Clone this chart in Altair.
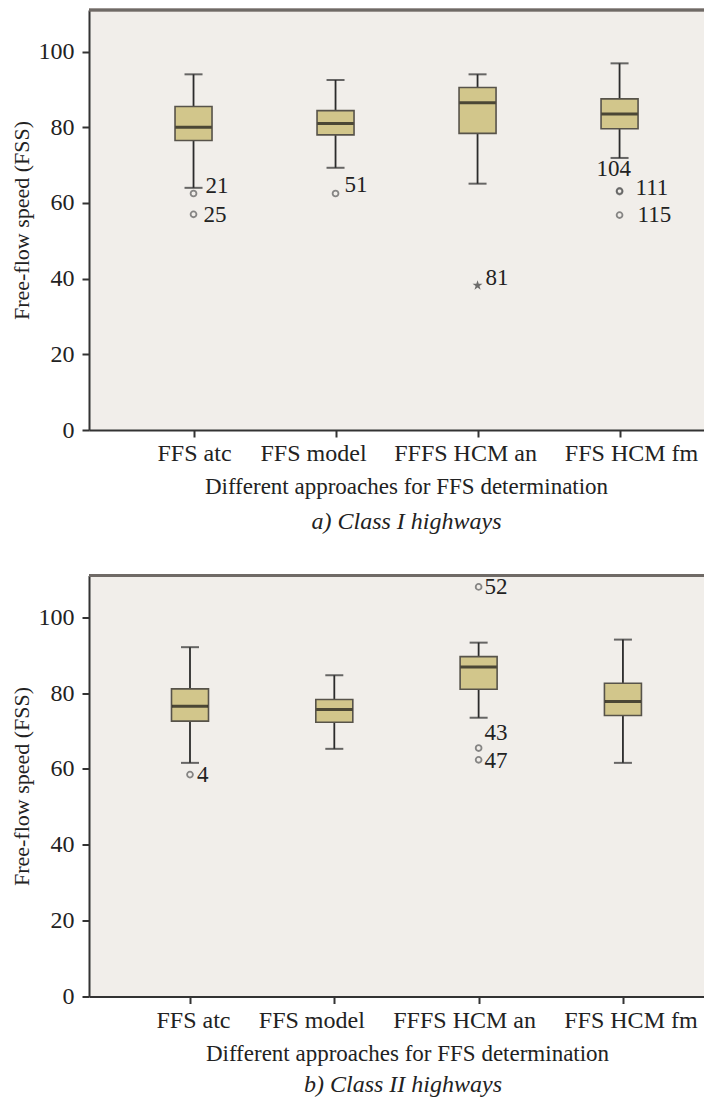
import altair as alt
import pandas as pd

# ---------------- data ----------------
cats = ["FFS atc", "FFS model", "FFFS HCM an", "FFS HCM fm"]

# Panel a) Class I highways
a_lo = [64.0, 69.3, 65.1, 71.9]
a_q1 = [76.5, 78.0, 78.4, 79.6]
a_med = [80.0, 81.0, 86.5, 83.5]
a_q3 = [85.5, 84.4, 90.5, 87.5]
a_hi = [94.0, 92.5, 94.0, 96.9]
a_out_cat = ["FFS atc", "FFS atc", "FFS model", "FFS HCM fm", "FFS HCM fm", "FFS HCM fm"]
a_out_val = [62.5, 57.0, 62.5, 63.2, 63.0, 56.8]
a_out_lab = ["21", "25", "51", "104", "111", "115"]
a_ext_cat = ["FFFS HCM an"]
a_ext_val = [38.2]
a_ext_lab = ["81"]

# Panel b) Class II highways
b_lo = [61.6, 65.3, 73.5, 61.6]
b_q1 = [72.6, 72.3, 81.0, 74.1]
b_med = [76.5, 75.7, 86.9, 77.8]
b_q3 = [81.1, 78.3, 89.6, 82.6]
b_hi = [92.1, 84.7, 93.3, 94.1]
b_out_cat = ["FFS atc", "FFFS HCM an", "FFFS HCM an", "FFFS HCM an"]
b_out_val = [58.5, 108.0, 65.5, 62.4]
b_out_lab = ["4", "52", "43", "47"]

y_ticks = [0, 20, 40, 60, 80, 100]

# ---------------- styling offsets (pixels) ----------------
a_lab_off = {"21": (12, -8), "25": (10, 1), "51": (9, -9), "104": (-23, -22),
             "111": (16, -4), "115": (18, 0), "81": (8, -7)}
b_lab_off = {"4": (7, 0), "52": (6, 0), "43": (6, -15), "47": (6, 1)}
a_tick_dx = [1, -22, -12, 12]
b_tick_dx = [3.5, -22.5, -14, 8]

FONT = "Liberation Serif"
DARK = "#2b2b2b"
TXT = "#222222"
STAR = ("M0,-1L0.2245,-0.309L0.951,-0.309L0.363,0.118L0.588,0.809L0,0.382"
        "L-0.588,0.809L-0.363,0.118L-0.951,-0.309L-0.2245,-0.309Z")

W = 624


def panel(lo, q1, med, q3, hi, out_cat, out_val, out_lab, ext_cat, ext_val, ext_lab,
          offs, tick_dx, caption, height, pad, align, title_x, cap_dx, cap_off):
    box = pd.DataFrame({"cat": cats, "lo": lo, "q1": q1, "med": med, "q3": q3, "hi": hi})
    outs = pd.DataFrame({"cat": out_cat, "val": out_val, "lab": out_lab})
    ext = pd.DataFrame({"cat": ext_cat, "val": ext_val, "lab": ext_lab})

    xscale = alt.Scale(type="point", domain=cats, padding=pad, align=align)
    yscale = alt.Scale(domain=[0, 111], nice=False, zero=False)
    xtitle = "Different approaches for FFS determination"
    ytitle = "Free-flow speed (FSS)"
    xaxis = alt.Axis(title=xtitle, labels=False, titleX=title_x, titleY=63.5,
                     titleBaseline="alphabetic", titleAnchor="start", titleAlign="center")
    yaxis = alt.Axis(values=y_ticks, title=ytitle,
                     labelPadding=8, titlePadding=5, titleFontSize=22)
    X = alt.X("cat:N", scale=xscale, sort=cats, axis=xaxis, title=xtitle)

    def Y(f):
        return alt.Y(f + ":Q", scale=yscale, axis=yaxis, title=ytitle)

    base = alt.Chart(box)
    w_lo = base.mark_rule(color=DARK, strokeWidth=1.8).encode(x=X, y=Y("lo"), y2="q1:Q")
    w_hi = base.mark_rule(color=DARK, strokeWidth=1.8).encode(x=X, y=Y("q3"), y2="hi:Q")
    cap_lo = base.mark_tick(orient="horizontal", size=18, thickness=2, color=DARK).encode(x=X, y=Y("lo"))
    cap_hi = base.mark_tick(orient="horizontal", size=18, thickness=2, color=DARK).encode(x=X, y=Y("hi"))
    bx = base.mark_bar(size=37, fill="#D2C68B", stroke="#57534a", strokeWidth=1.6).encode(
        x=X, y=Y("q1"), y2="q3:Q")
    md = base.mark_tick(orient="horizontal", size=36, thickness=3, color="#111111").encode(x=X, y=Y("med"))
    pts = alt.Chart(outs).mark_point(shape="circle", filled=False, size=34, color="#5a5a5a",
                                     strokeWidth=1.8).encode(x=X, y=Y("val"))
    frame = base.mark_rule(color="#6f6a66", strokeWidth=2.5).encode(
        x=alt.value(0), x2=alt.value(W), y=alt.value(0))
    layers = [w_lo, w_hi, cap_lo, cap_hi, bx, md, pts, frame]
    if len(ext):
        layers.append(alt.Chart(ext).mark_point(shape=STAR, filled=True, size=110,
                                                color="#333333").encode(x=X, y=Y("val")))
    all_labs = list(out_lab) + list(ext_lab)
    src = pd.concat([outs, ext], ignore_index=True)
    for lab in dict.fromkeys(all_labs):
        dx, dy = offs[lab]
        layers.append(alt.Chart(src).transform_filter(alt.datum.lab == lab).mark_text(
            align="left", baseline="middle", dx=dx, dy=dy, font=FONT, fontSize=23,
            color=TXT).encode(x=X, y=Y("val"), text="lab:N"))
    # category labels under the ticks
    for c, dx in zip(cats, tick_dx):
        layers.append(base.transform_filter(alt.datum.cat == c).mark_text(
            align="center", baseline="alphabetic", dx=dx, font=FONT, fontSize=24,
            color=TXT).encode(x=X, y=alt.value(height + 31), text="cat:N"))
    return alt.layer(*layers).properties(
        width=W, height=height,
        title=alt.TitleParams(caption, orient="bottom", anchor="middle", font=FONT,
                              fontStyle="italic", fontSize=24, fontWeight="normal",
                              color=TXT, offset=cap_off, dx=cap_dx))


# plot left edge at page x = 88
pa = panel(a_lo, a_q1, a_med, a_q3, a_hi, a_out_cat, a_out_val, a_out_lab,
           a_ext_cat, a_ext_val, a_ext_lab, a_lab_off, a_tick_dx, "a) Class I highways",
           420, 0.697, 0.528, 317, 5.5, 11.5)
pb = panel(b_lo, b_q1, b_med, b_q3, b_hi, b_out_cat, b_out_val, b_out_lab,
           [], [], [], b_lab_off, b_tick_dx, "b) Class II highways",
           421, 0.662, 0.5286, 318, 2, 8)

chart = alt.vconcat(pa, pb, spacing=39.5).properties(
    padding={"left": 2, "top": 0, "right": -11, "bottom": 3},
    background="white",
).configure_view(fill="#F1EEEA", stroke=None).configure_axis(
    grid=False, domainColor="#333333", domainWidth=2, tickColor="#333333",
    tickWidth=2, tickSize=7, labelFont=FONT, labelFontSize=24, labelColor=TXT,
    titleFont=FONT, titleFontSize=23, titleFontWeight="normal", titleColor=TXT,
)

chart.save("out.html", embed_options={"renderer": "svg", "actions": False})
